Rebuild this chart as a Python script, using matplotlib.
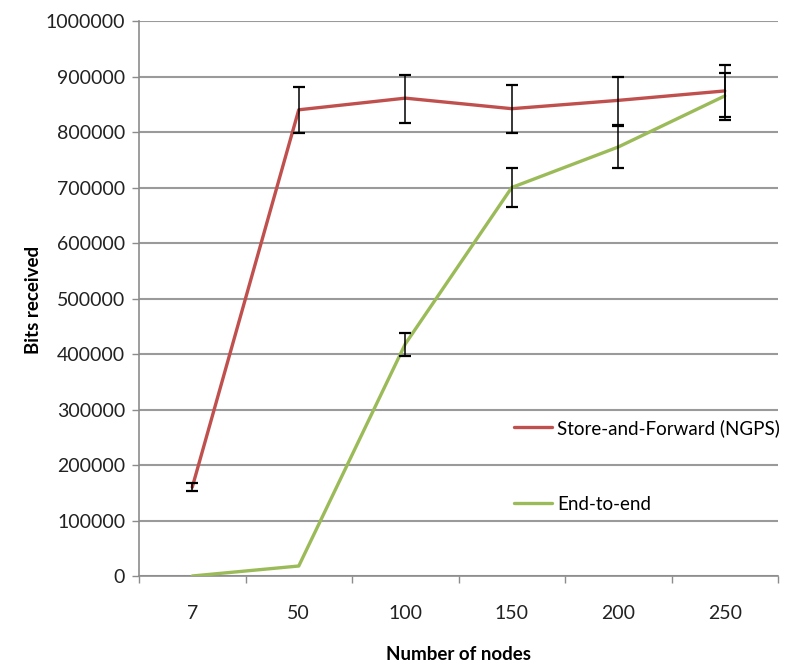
import matplotlib
matplotlib.use("Agg")
import matplotlib.pyplot as plt
import numpy as np

plt.rcParams['font.family'] = ['Lato', 'DejaVu Sans']

# Data
nodes = ["7", "50", "100", "150", "200", "250"]
store_forward = [160000, 840000, 861000, 842000, 857000, 874000]
sf_low = [153000, 799000, 817000, 799000, 813000, 821000]
sf_high = [167000, 881000, 903000, 885000, 899000, 920000]
end_to_end = [0, 18000, 418000, 700000, 773000, 865000]
e2e_low = [np.nan, np.nan, 396000, 664000, 736000, 827000]
e2e_high = [np.nan, np.nan, 438000, 735000, 810000, 907000]
y_ticks = list(range(0, 1000001, 100000))

red = "#C0504D"
green = "#9BBB59"
axis_grey = "#8c8c8c"

fig = plt.figure(figsize=(7.92, 6.68), dpi=100)
ax_left, ax_bottom = 139, 576
ax_w, ax_h = 778 - 139, 576 - 21
ax = fig.add_axes([ax_left / 792, 1 - ax_bottom / 668, ax_w / 792, ax_h / 668])

x = np.arange(len(nodes))

ax.plot(x, store_forward, color=red, lw=2.4, label="Store-and-Forward (NGPS)",
        solid_capstyle="round", zorder=3)
ax.plot(x, end_to_end, color=green, lw=2.4, label="End-to-end",
        solid_capstyle="round", zorder=3)

def draw_err(vals, lo, hi):
    vals = np.array(vals, float)
    lo = np.array(lo, float)
    hi = np.array(hi, float)
    yerr = np.vstack([vals - lo, hi - vals])
    ax.errorbar(x, vals, yerr=yerr, fmt="none", ecolor="black", elinewidth=1.1,
                capsize=4, capthick=1.6, zorder=4)

draw_err(store_forward, sf_low, sf_high)
draw_err(end_to_end, e2e_low, e2e_high)

ax.set_xlim(-0.5, len(nodes) - 0.5)
ax.set_ylim(0, 1000000)
ax.set_yticks(y_ticks)
ax.set_yticklabels([str(v) for v in y_ticks])
ax.set_xticks(x)
ax.set_xticklabels(nodes)
ax.set_xticks(np.arange(-0.5, len(nodes)), minor=True)

ax.tick_params(axis="x", which="major", length=0, pad=21, labelsize=14, colors="#222222")
ax.tick_params(axis="x", which="minor", length=5, width=1, color=axis_grey, direction="out")
ax.tick_params(axis="y", which="major", length=5, width=1, color=axis_grey, direction="out",
               labelsize=14, labelcolor="#222222", pad=5)

for s in ["top", "right"]:
    ax.spines[s].set_visible(False)
for s in ["left", "bottom"]:
    ax.spines[s].set_color(axis_grey)
    ax.spines[s].set_linewidth(1.2)

ax.yaxis.grid(True, color="#9a9a9a", lw=1.5)
ax.set_axisbelow(True)

ax.set_ylabel("Bits received", fontsize=13.5, fontweight="bold", va="center")
ax.set_xlabel("Number of nodes", fontsize=13.5, fontweight="bold", va="center")
ax.yaxis.set_label_coords((34 - ax_left) / ax_w, (ax_bottom - 300) / ax_h)
ax.xaxis.set_label_coords((459 - ax_left) / ax_w, (ax_bottom - 655) / ax_h)

ax.legend(loc="upper left", bbox_to_anchor=((514 - ax_left) / ax_w, (ax_bottom - 419) / ax_h),
          frameon=False, fontsize=13.5, handlelength=2.0, handletextpad=0.3,
          labelspacing=3.15, borderpad=0, borderaxespad=0)

fig.savefig("out.png", dpi=100)
